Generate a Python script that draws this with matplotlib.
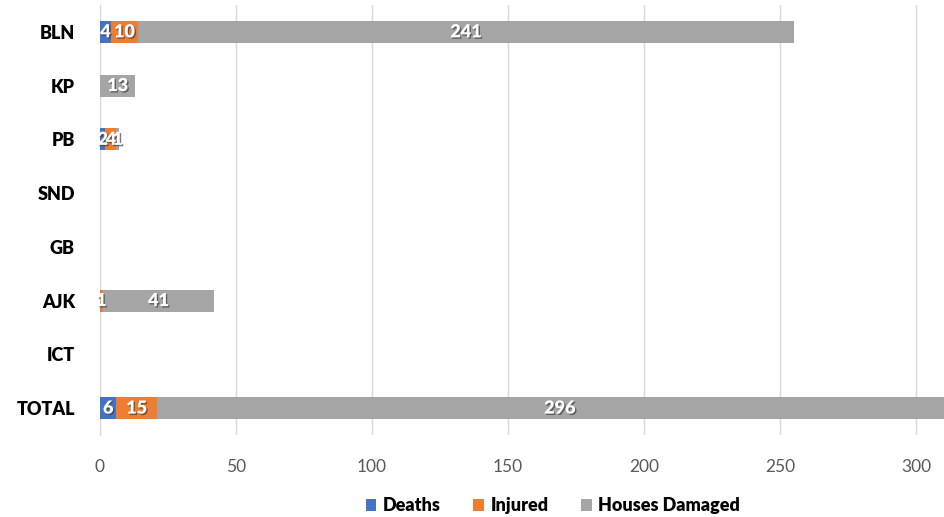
import matplotlib.pyplot as plt
import matplotlib.patheffects as pe
import numpy as np

# Data
regions = ["BLN", "KP", "PB", "SND", "GB", "AJK", "ICT", "TOTAL"]
deaths = [4, 0, 2, 0, 0, 0, 0, 6]
injured = [10, 0, 4, 0, 0, 1, 0, 15]
houses = [241, 13, 1, 0, 0, 41, 0, 296]

series = [
    ("Deaths", deaths, "#4472C4"),
    ("Injured", injured, "#ED7D31"),
    ("Houses Damaged", houses, "#A5A5A5"),
]

plt.rcParams["font.family"] = ["Lato", "DejaVu Sans"]

fig = plt.figure(figsize=(9.45, 5.17), dpi=100)
ax = fig.add_axes([100 / 945, 1 - 435 / 517, 845 / 945, 430 / 517])

y = np.arange(len(regions))
left = np.zeros(len(regions))
# white labels with a soft drop shadow
shadow = [pe.withSimplePatchShadow(offset=(1, -1), shadow_rgbFace="#404040", alpha=0.7)]
for name, vals, color in series:
    vals = np.array(vals, dtype=float)
    ax.barh(y, vals, left=left, height=0.41, color=color, label=name, zorder=3)
    for yi, (l, v) in enumerate(zip(left, vals)):
        if v > 0:
            ax.text(l + v / 2, yi, f"{int(v)}", ha="center", va="center",
                    color="white", fontsize=13, fontweight="heavy", zorder=4,
                    path_effects=shadow)
    left += vals

ax.set_yticks(y)
ax.set_yticklabels(regions, fontsize=13, fontweight="heavy")
ax.set_ylim(len(regions) - 0.5, -0.5)
ax.set_xlim(0, 310.6)
ax.set_xticks([0, 50, 100, 150, 200, 250, 300])
ax.tick_params(axis="x", labelsize=12.5, labelcolor="#595959", length=0, pad=17)
ax.tick_params(axis="y", length=0, pad=18)
ax.grid(axis="x", color="#D9D9D9", linewidth=1, zorder=0)
for s in ["top", "right", "bottom"]:
    ax.spines[s].set_visible(False)
ax.spines["left"].set_color("#D9D9D9")

fig.legend(loc="lower center", bbox_to_anchor=(0.585, -0.026), ncol=3, frameon=False,
           prop={"weight": "heavy", "size": 13},
           handlelength=0.6, handleheight=0.6, columnspacing=1.8, handletextpad=0.35)

fig.savefig("out.png", dpi=100)
